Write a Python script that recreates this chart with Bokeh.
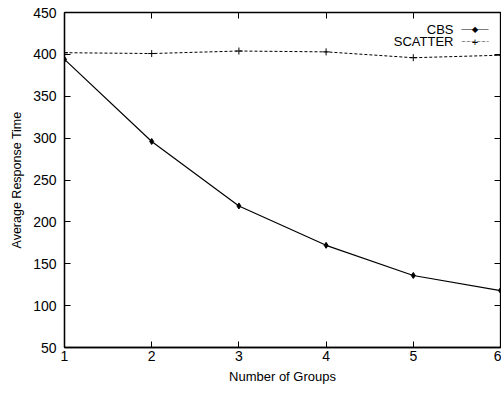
from bokeh.plotting import figure
from bokeh.models import Range1d, LinearAxis, Label, PolyAnnotation, FixedTicker, CustomJSTickFormatter
from bokeh.embed import file_html
from bokeh.resources import INLINE

groups = [1, 2, 3, 4, 5, 6]
cbs = [394, 296, 219, 172, 136, 118]
scatter = [402, 401, 404, 403, 396, 399]
y_ticks = [50, 100, 150, 200, 250, 300, 350, 400, 450]
x_ticks = [1, 2, 3, 4, 5, 6]

FONT = "Liberation Sans"

p = figure(width=501, height=397, output_backend="svg", toolbar_location=None,
           x_range=Range1d(1, 6), y_range=Range1d(50, 450),
           min_border_left=64, min_border_right=1, min_border_top=12, min_border_bottom=50)
p.grid.visible = False
p.outline_line_color = "black"
p.outline_line_width = 1.3
p.background_fill_color = "white"
p.border_fill_color = "white"

for ax in (p.xaxis[0], p.yaxis[0]):
    ax.major_tick_in = 6
    ax.major_tick_out = 0
    ax.minor_tick_in = 0
    ax.minor_tick_out = 0
    ax.axis_line_color = "black"
    ax.axis_line_width = 1.3
    ax.major_label_text_font = FONT
    ax.major_label_text_font_size = "14px"
    ax.major_label_text_color = "black"
    ax.axis_label_text_font = FONT
    ax.axis_label_text_font_style = "normal"
    ax.axis_label_text_color = "black"

p.xaxis.ticker = FixedTicker(ticks=x_ticks)
p.yaxis.ticker = FixedTicker(ticks=y_ticks)
p.xaxis.axis_label = "Number of Groups"
p.yaxis.axis_label = "Average Response Time"
p.xaxis.axis_label_text_font_size = "13px"
p.yaxis.axis_label_text_font_size = "12.5px"
p.xaxis.major_label_standoff = 3
p.yaxis.major_label_standoff = 8
p.xaxis.axis_label_standoff = 5
p.yaxis.axis_label_standoff = 6

blank = CustomJSTickFormatter(code="return ''")
for side in ("right", "above"):
    ax = LinearAxis(ticker=FixedTicker(ticks=y_ticks if side == "right" else x_ticks),
                    formatter=blank, major_tick_in=6, major_tick_out=0,
                    minor_tick_in=0, minor_tick_out=0, axis_line_color="black",
                    major_label_standoff=0)
    p.add_layout(ax, side)

p.line(groups, cbs, line_color="black", line_width=1.2)
p.scatter(groups, cbs, marker="diamond", size=6, fill_color="black", line_color="black")
p.line(groups, scatter, line_color="black", line_width=1, line_dash="3 2")
p.scatter(groups, scatter, marker="cross", size=7, line_color="black", line_width=1)

# legend (gnuplot style: label right-aligned, sample to the right), frame-relative screen units
FRAME_H = 335
for i, (name, dash, mk, mfont, msize) in enumerate([("CBS", "solid", "◆", "DejaVu Sans", "8px"),
                                                     ("SCATTER", "3 2", "+", FONT, "11px")]):
    yy = FRAME_H - 17 - i * 12
    p.add_layout(Label(x=389, y=yy, x_units="screen", y_units="screen", text=name,
                       text_align="right", text_baseline="middle", text_font=FONT,
                       text_font_size="13px", text_color="black"))
    p.add_layout(PolyAnnotation(xs=[397, 424, 424, 397], ys=[yy, yy, yy, yy],
                                xs_units="screen", ys_units="screen",
                                line_color="black", line_dash=dash, fill_alpha=0))
    p.add_layout(Label(x=410.5, y=yy, x_units="screen", y_units="screen", text=mk,
                       text_align="center", text_baseline="middle", text_font=mfont,
                       text_font_size=msize, text_color="black"))

open("out.html", "w").write(file_html(p, INLINE))
